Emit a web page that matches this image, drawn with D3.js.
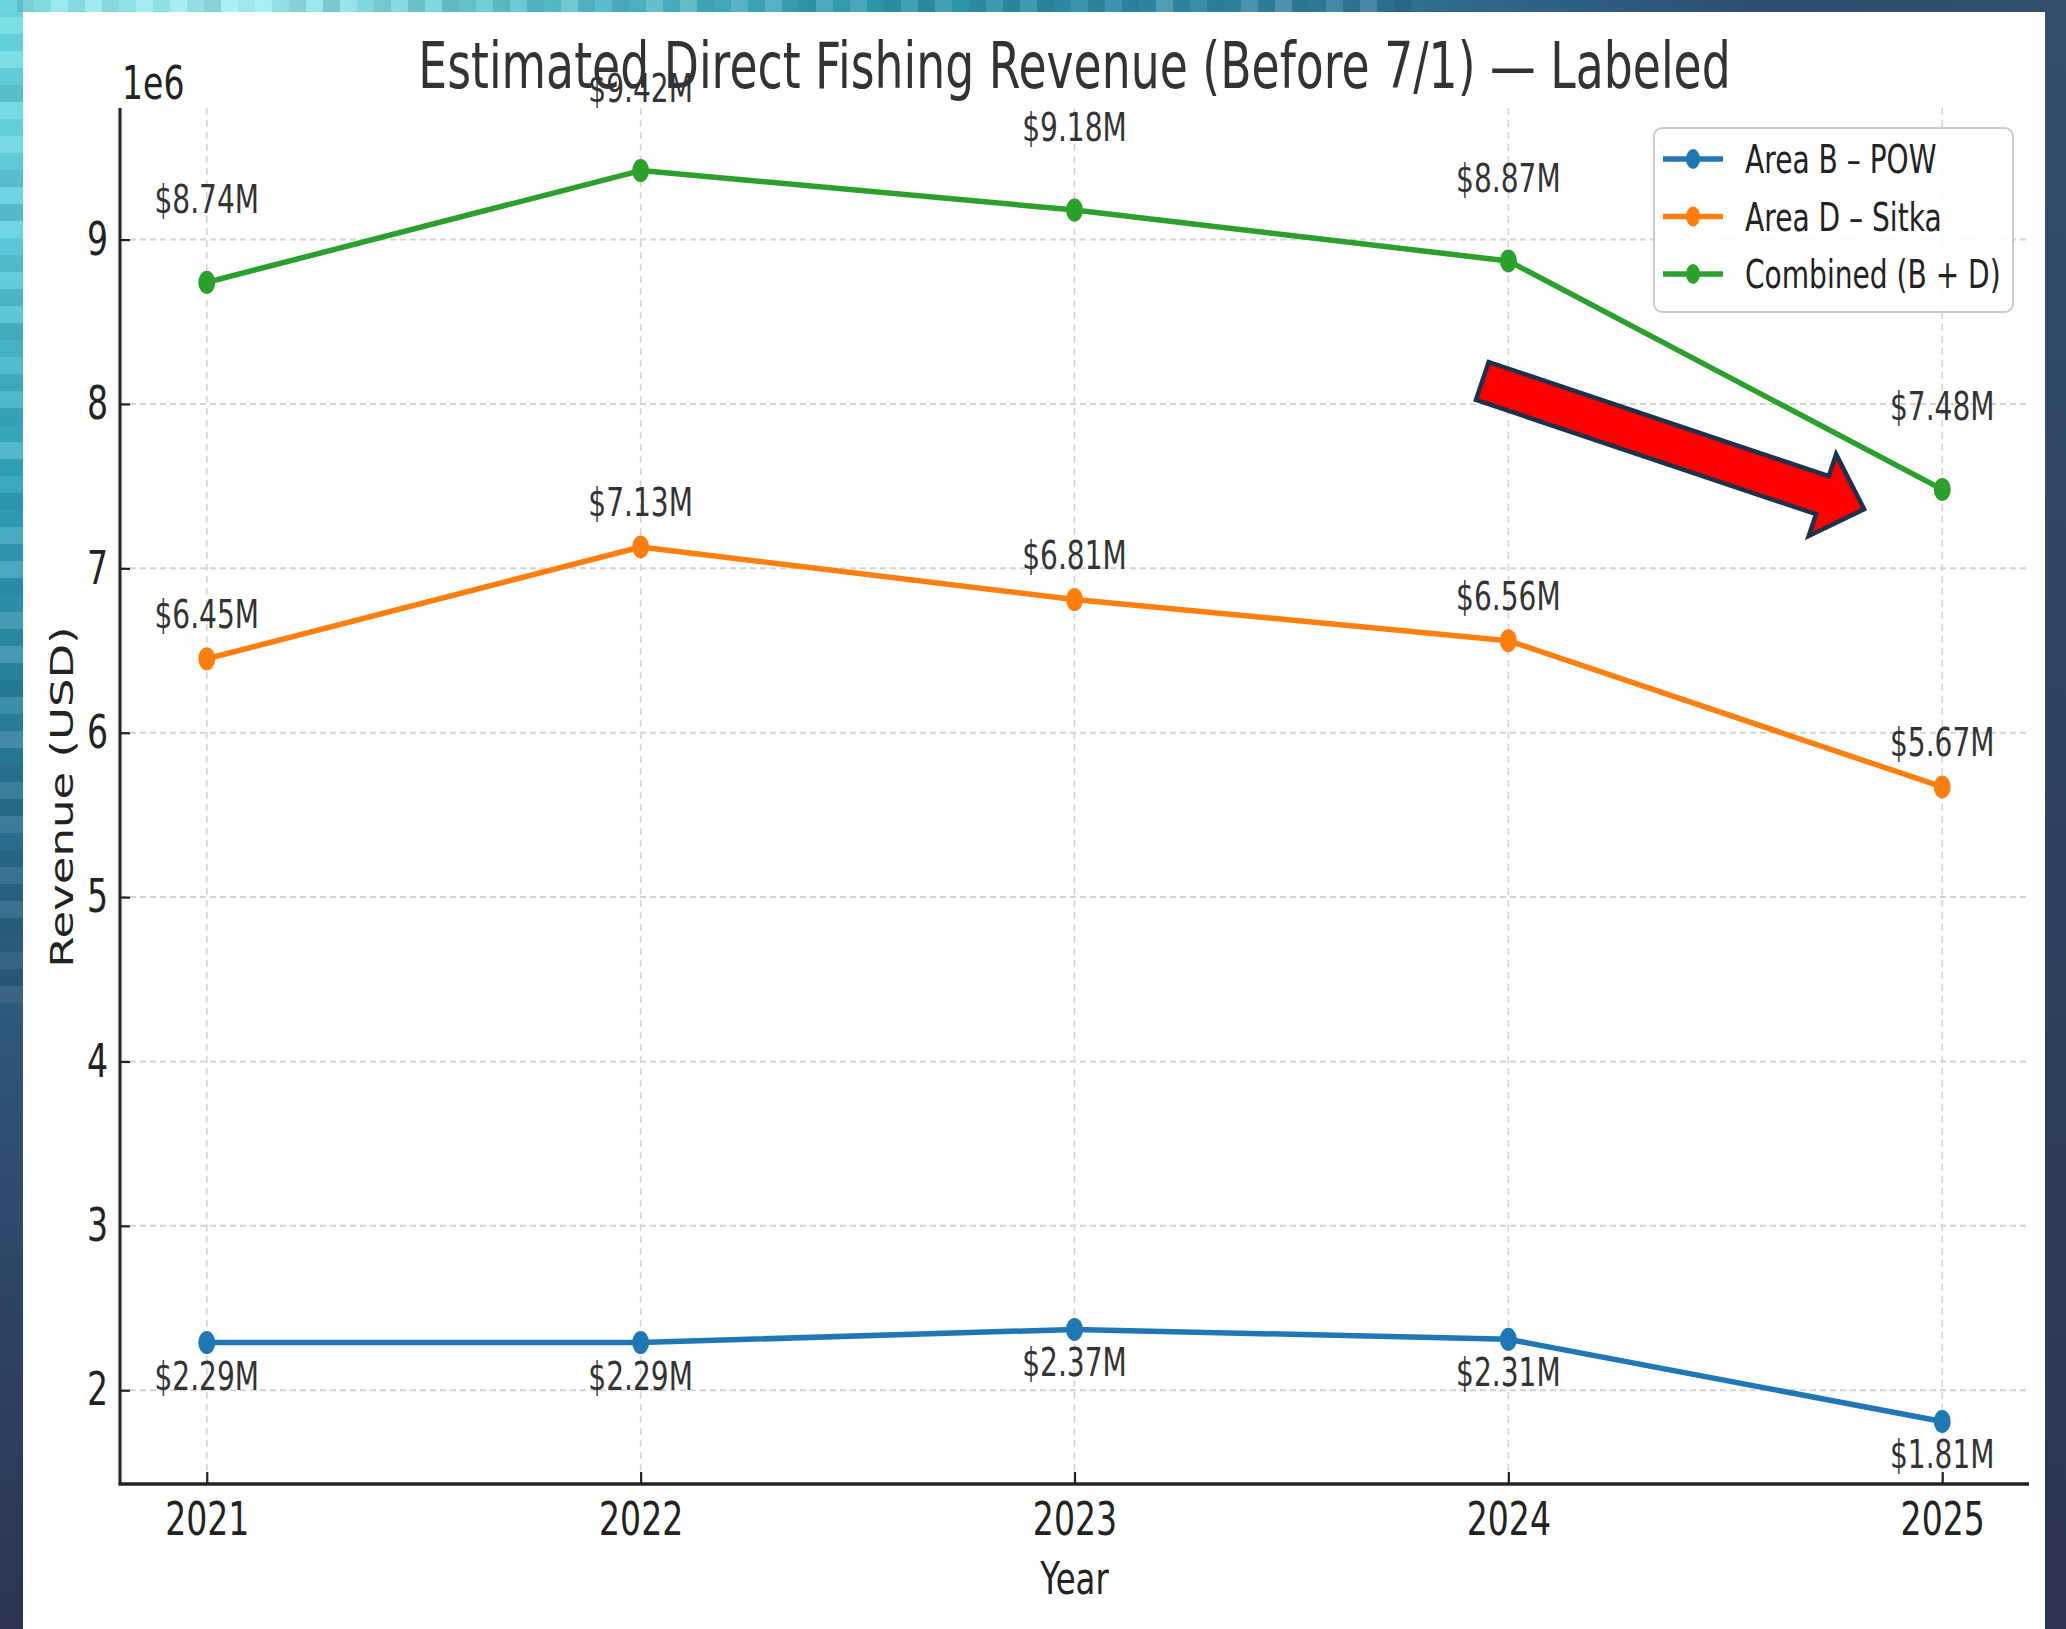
<!DOCTYPE html>
<html>
<head>
<meta charset="utf-8">
<script src="https://cdn.jsdelivr.net/npm/d3@7"></script>
<style>
  html, body { margin: 0; padding: 0; background: #2c3a58; }
  svg { display: block; }
  text { font-family: "DejaVu Sans", sans-serif; }
</style>
</head>
<body>
<script>
// data (values in USD)
var years = [2021, 2022, 2023, 2024, 2025];
var areaB = [2.29e6, 2.29e6, 2.37e6, 2.31e6, 1.81e6];
var areaD = [6.45e6, 7.13e6, 6.81e6, 6.56e6, 5.67e6];
var combined = [8.74e6, 9.42e6, 9.18e6, 8.87e6, 7.48e6];
var seriesNames = ['Area B \u2013 POW', 'Area D \u2013 Sitka', 'Combined (B + D)'];
var yTicks = [2e6, 3e6, 4e6, 5e6, 6e6, 7e6, 8e6, 9e6];
// trend arrow, in data units
var arrowFrom = [2023.94, 8.14e6];
var arrowTo = [2024.82, 7.36e6];

var W = 2066, H = 1629;
var SX = 0.72; // the original picture is squeezed sideways
var colors = ['#1f77b4', '#ff7f0e', '#2ca02c'];
var labelOffset = [33, -45, -83]; // label centre relative to point

var svg = d3.select('body').append('svg')
	.attr('width', W)
	.attr('height', H);

var defs = svg.append('defs');
function grad(id, x2, y2, stops) {
	var g = defs.append('linearGradient').attr('id', id)
		.attr('x1', 0).attr('y1', 0).attr('x2', x2).attr('y2', y2);
	stops.forEach(function(s) {
		g.append('stop').attr('offset', s[0]).attr('stop-color', s[1]);
	});
}
grad('gTop', 1, 0, [[0, '#86e3ea'], [0.12, '#a4f0f2'], [0.26, '#5cc4d0'], [0.42, '#2f9cb1'], [0.58, '#3189a8'], [0.72, '#2e6689'], [0.86, '#2f4d6f'], [1, '#34506e']]);
grad('gLeft', 0, 1, [[0, '#6adbe4'], [0.14, '#62d2e0'], [0.3, '#2fa6bc'], [0.45, '#2a7e9c'], [0.6, '#2e5c7d'], [0.8, '#2e4466'], [1, '#2b3553']]);
grad('gRight', 0, 1, [[0, '#34506e'], [0.4, '#2f4466'], [1, '#2b3452']]);

// frame around the white panel
svg.append('rect').attr('width', W).attr('height', H).attr('fill', 'url(#gRight)');
svg.append('rect').attr('width', W).attr('height', 12).attr('fill', 'url(#gTop)');
svg.append('rect').attr('width', 23).attr('height', H).attr('fill', 'url(#gLeft)');

// little mosaic on the top-left edge
var cell = 17;
var tiles = [];
for (var i = 0; i * cell < 1400; i++) tiles.push([i * cell, 0, cell, 12, i]);
for (var j = 0; j * cell < 1000; j++) tiles.push([0, j * cell, 23, cell, j + 7]);
svg.append('g').selectAll('rect').data(tiles).enter().append('rect')
	.attr('x', function(d) { return d[0]; })
	.attr('y', function(d) { return d[1]; })
	.attr('width', function(d) { return d[2]; })
	.attr('height', function(d) { return d[3]; })
	.attr('fill', function(d) { return ((d[4] * 37) % 5) < 2 ? '#ffffff' : '#08303f'; })
	.attr('opacity', function(d) { return 0.04 + ((d[4] * 53) % 7) * 0.018; });

svg.append('rect')
	.attr('x', 23).attr('y', 12)
	.attr('width', 2045 - 23).attr('height', H - 12)
	.attr('fill', '#ffffff');

// scales, matplotlib style 5% padding
var pLeft = 120, pRight = 2029, pTop = 108, pBottom = 1484;
var all = areaB.concat(areaD, combined);
var yMin = d3.min(all), yMax = d3.max(all);
var yPad = (yMax - yMin) * 0.05;
var xScale = d3.scaleLinear()
	.domain([years[0] - 0.2, years[years.length - 1] + 0.2])
	.range([pLeft, pRight]);
var yScale = d3.scaleLinear()
	.domain([yMin - yPad, yMax + yPad])
	.range([pBottom, pTop]);

function squish(sel, x, y) {
	sel.attr('transform', 'translate(' + x + ',' + y + ') scale(' + SX + ',1)');
}

// grid
var grid = svg.append('g');
grid.selectAll('.gx').data(years).enter().append('line')
	.attr('x1', function(d) { return xScale(d); })
	.attr('x2', function(d) { return xScale(d); })
	.attr('y1', pTop).attr('y2', pBottom)
	.attr('stroke', '#d4d4d4').attr('stroke-width', 1.5)
	.attr('stroke-dasharray', '7,5');
grid.selectAll('.gy').data(yTicks).enter().append('line')
	.attr('x1', pLeft).attr('x2', pRight)
	.attr('y1', function(d) { return yScale(d); })
	.attr('y2', function(d) { return yScale(d); })
	.attr('stroke', '#d4d4d4').attr('stroke-width', 2)
	.attr('stroke-dasharray', '6,4');

// axes
var xAxis = svg.append('g')
	.attr('transform', 'translate(0,' + pBottom + ')')
	.call(d3.axisBottom(xScale).tickValues(years).tickFormat(d3.format('d'))
		.tickSize(-12).tickPadding(18));
var yAxis = svg.append('g')
	.attr('transform', 'translate(' + pLeft + ',0)')
	.call(d3.axisLeft(yScale).tickValues(yTicks).tickFormat(function(d) { return d / 1e6; })
		.tickSize(-10).tickPadding(12));
[xAxis, yAxis].forEach(function(ax) {
	ax.select('.domain').remove();
	ax.selectAll('line').attr('stroke', '#222').attr('stroke-width', 2.2);
	ax.selectAll('text')
		.attr('font-size', 46)
		.attr('font-family', 'DejaVu Sans')
		.attr('fill', '#222')
		.each(function() {
			var t = d3.select(this);
			var x = +t.attr('x') || 0, y = +t.attr('y') || 0;
			t.attr('x', 0).attr('y', 0);
			squish(t, x, y);
		});
});

// data lines
var seriesData = [areaB, areaD, combined];
var line = d3.line()
	.x(function(d, i) { return xScale(years[i]); })
	.y(function(d) { return yScale(d); });

var series = svg.append('g').selectAll('g')
	.data(seriesData).enter().append('g');
series.append('path')
	.attr('d', line)
	.attr('fill', 'none')
	.attr('stroke', function(d, i) { return colors[i]; })
	.attr('stroke-width', 5.5)
	.attr('stroke-linejoin', 'round');
series.each(function(vals, s) {
	var g = d3.select(this);
	g.selectAll('ellipse').data(vals).enter().append('ellipse')
		.attr('cx', function(d, i) { return xScale(years[i]); })
		.attr('cy', function(d) { return yScale(d); })
		.attr('rx', 8.5).attr('ry', 11.5)
		.attr('fill', colors[s]);
	g.selectAll('text').data(vals).enter().append('text')
		.attr('text-anchor', 'middle')
		.attr('font-size', 39)
		.attr('fill', '#333')
		.attr('dy', '0.36em')
		.text(function(d) { return '$' + (d / 1e6).toFixed(2) + 'M'; })
		.each(function(d, i) {
			squish(d3.select(this), xScale(years[i]), yScale(d) + labelOffset[s]);
		});
});

// spines
svg.append('line').attr('x1', pLeft).attr('x2', pLeft).attr('y1', pTop).attr('y2', pBottom)
	.attr('stroke', '#222').attr('stroke-width', 3);
svg.append('line').attr('x1', pLeft - 1.5).attr('x2', pRight).attr('y1', pBottom).attr('y2', pBottom)
	.attr('stroke', '#222').attr('stroke-width', 3.5);

// offset text, title, axis labels
squish(svg.append('text').attr('font-size', 46).attr('fill', '#222').text('1e6'), pLeft + 2, 99);
squish(svg.append('text').attr('font-size', 63.5).attr('fill', '#333').attr('text-anchor', 'middle')
	.text('Estimated Direct Fishing Revenue (Before 7/1) \u2014 Labeled'), (pLeft + pRight) / 2, 88);
squish(svg.append('text').attr('font-size', 45).attr('fill', '#222').attr('text-anchor', 'middle')
	.text('Year'), (pLeft + pRight) / 2, 1594);
svg.append('text').attr('font-size', 45).attr('fill', '#222').attr('text-anchor', 'middle')
	.attr('transform', 'translate(73,797) scale(' + SX + ',1) rotate(-90)')
	.text('Revenue (USD)');

// trend arrow
(function() {
	var p0 = [xScale(arrowFrom[0]), yScale(arrowFrom[1])];
	var p1 = [xScale(arrowTo[0]), yScale(arrowTo[1])];
	var dx = p1[0] - p0[0], dy = p1[1] - p0[1];
	var len = Math.sqrt(dx * dx + dy * dy);
	var ux = dx / len, uy = dy / len, px = -uy, py = ux;
	var sw = 20, hw = 43, hl = 44;
	var bx = p1[0] - ux * hl, by = p1[1] - uy * hl;
	var pts = [
		[p0[0] + px * sw, p0[1] + py * sw],
		[bx + px * sw, by + py * sw],
		[bx + px * hw, by + py * hw],
		p1,
		[bx - px * hw, by - py * hw],
		[bx - px * sw, by - py * sw],
		[p0[0] - px * sw, p0[1] - py * sw]
	];
	svg.append('polygon')
		.attr('points', pts.map(function(p) { return p.join(','); }).join(' '))
		.attr('fill', '#ff0000')
		.attr('stroke', '#1d314b')
		.attr('stroke-width', 4.5)
		.attr('stroke-linejoin', 'miter');
})();

// legend
var lg = svg.append('g');
lg.append('rect')
	.attr('x', 1654).attr('y', 128).attr('width', 359).attr('height', 184)
	.attr('rx', 8)
	.attr('fill', '#ffffff').attr('fill-opacity', 0.85)
	.attr('stroke', '#cccccc').attr('stroke-width', 2);
var items = lg.selectAll('g.item').data(seriesNames).enter().append('g')
	.attr('transform', function(d, i) { return 'translate(0,' + (159 + i * 57.5) + ')'; });
items.append('line')
	.attr('x1', 1663).attr('x2', 1723).attr('y1', 0).attr('y2', 0)
	.attr('stroke', function(d, i) { return colors[i]; })
	.attr('stroke-width', 5.5);
items.append('ellipse')
	.attr('cx', 1693).attr('cy', 0).attr('rx', 7).attr('ry', 10)
	.attr('fill', function(d, i) { return colors[i]; });
items.append('text')
	.attr('font-size', 39).attr('fill', '#222').attr('dy', '0.36em')
	.text(function(d) { return d; })
	.each(function() { squish(d3.select(this), 1745, 0); });
</script>
</body>
</html>
